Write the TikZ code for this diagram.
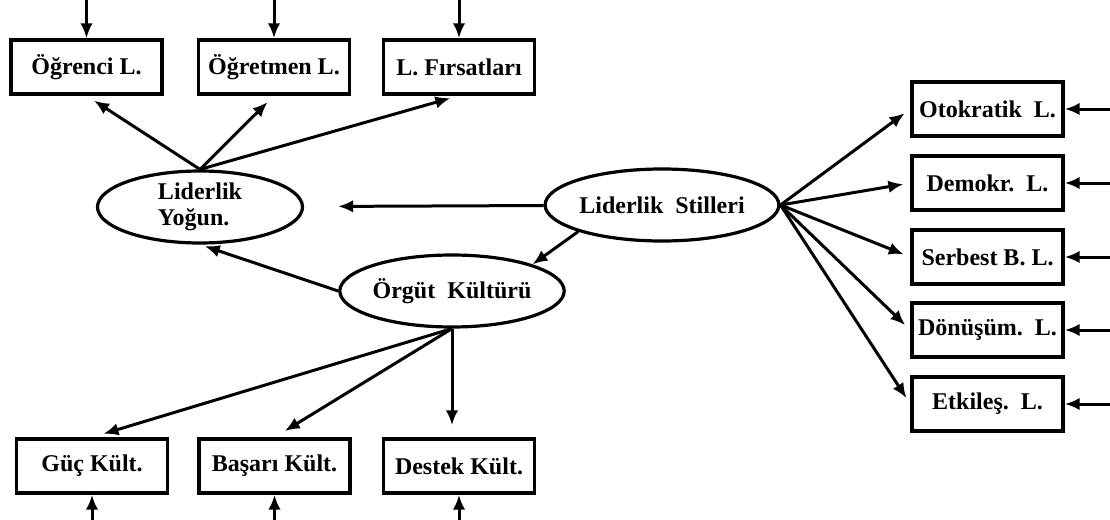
\documentclass[tikz,border=0pt]{standalone}
\usepackage{fontspec}
\setmainfont{Liberation Serif}
\usetikzlibrary{arrows.meta,shapes.geometric}

\begin{document}
\begin{tikzpicture}[x=1pt, y=-1pt, >={Latex[length=15pt,width=12.5pt]},
        kutu/.style={draw, line width=3.4pt, minimum width=151pt, minimum height=54pt,
            inner sep=1pt, font=\bfseries\fontsize{24}{26}\selectfont},
        gizil/.style={draw, ellipse, line width=3.2pt, minimum width=205pt, minimum height=72pt,
            inner sep=0pt, font=\bfseries\fontsize{24}{26}\selectfont},
        yon/.style={->, line width=3pt}]
        \useasboundingbox (0,0) rectangle (1110,519);

        % Latent variables (ellipses)
        \node[gizil, align=left] (lidyog) at (200,207) {Liderlik\\Yoğun.};
        \node[gizil] (lidstil) at (662,205) {Liderlik\enspace Stilleri};
        \node[gizil] (orgut) at (452,291) {Örgüt\enspace Kültürü};

        % Indicators of Liderlik Yoğun.
        \node[kutu] (ogrenci) at (86.5,67) {Öğrenci L.};
        \node[kutu] (ogretmen) at (274,67) {Öğretmen L.};
        \node[kutu] (firsat) at (459,67) {L. Fırsatları};

        % Indicators of Liderlik Stilleri
        \node[kutu] (oto) at (987.5,109) {Otokratik\enspace L.};
        \node[kutu] (demokr) at (987.5,183) {Demokr.\enspace L.};
        \node[kutu] (serbest) at (987.5,257) {Serbest B. L.};
        \node[kutu] (donusum) at (987.5,330) {Dönüşüm.\enspace L.};
        \node[kutu] (etkiles) at (987.5,404) {Etkileş.\enspace L.};

        % Indicators of Örgüt Kültürü
        \node[kutu] (guc) at (92,466) {Güç Kült.};
        \node[kutu] (basari) at (274.5,466) {Başarı Kült.};
        \node[kutu] (destek) at (459,466) {Destek Kült.};

        % Error terms (short arrows into the boxes)
        \foreach \k in {ogrenci, ogretmen, firsat} {
            \draw[yon] ([yshift=39pt]\k.north) -- (\k.north);
        }
        \foreach \k in {guc, basari, destek} {
            \draw[yon] ([yshift=-26pt]\k.south) -- (\k.south);
        }
        \foreach \k in {oto, demokr, serbest, donusum, etkiles} {
            \draw[yon] ([xshift=47pt]\k.east) -- (\k.east);
        }

        % Loadings
        \foreach \k in {ogrenci, ogretmen, firsat} {
            \draw[yon, shorten >=9pt] (lidyog.north) -- (\k.south);
        }
        \foreach \k in {oto, demokr, serbest, donusum, etkiles} {
            \draw[yon, shorten >=7pt] (lidstil.east) -- (\k.west);
        }
        \foreach \k in {guc, basari} {
            \draw[yon, shorten >=12pt] (orgut.south) -- (\k.north);
        }
        \draw[yon, shorten >=12pt] (orgut.south) -- (orgut.south |- destek.north);

        % Structural paths
        \draw[yon, shorten >=34pt] (lidstil) -- (lidyog);
        \draw[yon, shorten >=5pt] (orgut.west) -- (lidyog.south);
        \draw[yon] (lidstil.south west) -- (orgut.north east);
    \end{tikzpicture}
\end{document}
